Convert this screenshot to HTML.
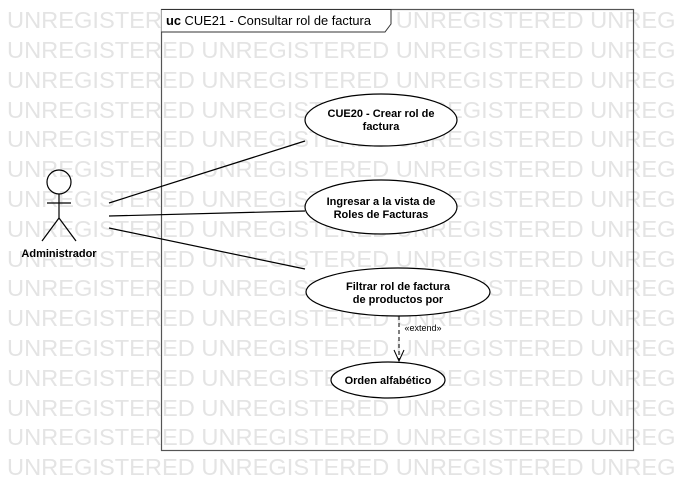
<!DOCTYPE html>
<html><head><style>
body{margin:0;background:#fff;}
svg{display:block;}
</style></head><body>
<svg width="674" height="490" xmlns="http://www.w3.org/2000/svg">
<g font-family="Liberation Sans, sans-serif" font-size="23" fill="#e4e4e4">
<text x="7" y="28" textLength="771" lengthAdjust="spacingAndGlyphs">UNREGISTERED UNREGISTERED UNREGISTERED UNREGISTERED</text>
<text x="7" y="58" textLength="771" lengthAdjust="spacingAndGlyphs">UNREGISTERED UNREGISTERED UNREGISTERED UNREGISTERED</text>
<text x="7" y="88" textLength="771" lengthAdjust="spacingAndGlyphs">UNREGISTERED UNREGISTERED UNREGISTERED UNREGISTERED</text>
<text x="7" y="118" textLength="771" lengthAdjust="spacingAndGlyphs">UNREGISTERED UNREGISTERED UNREGISTERED UNREGISTERED</text>
<text x="7" y="147" textLength="771" lengthAdjust="spacingAndGlyphs">UNREGISTERED UNREGISTERED UNREGISTERED UNREGISTERED</text>
<text x="7" y="177" textLength="771" lengthAdjust="spacingAndGlyphs">UNREGISTERED UNREGISTERED UNREGISTERED UNREGISTERED</text>
<text x="7" y="207" textLength="771" lengthAdjust="spacingAndGlyphs">UNREGISTERED UNREGISTERED UNREGISTERED UNREGISTERED</text>
<text x="7" y="237" textLength="771" lengthAdjust="spacingAndGlyphs">UNREGISTERED UNREGISTERED UNREGISTERED UNREGISTERED</text>
<text x="7" y="267" textLength="771" lengthAdjust="spacingAndGlyphs">UNREGISTERED UNREGISTERED UNREGISTERED UNREGISTERED</text>
<text x="7" y="296" textLength="771" lengthAdjust="spacingAndGlyphs">UNREGISTERED UNREGISTERED UNREGISTERED UNREGISTERED</text>
<text x="7" y="326" textLength="771" lengthAdjust="spacingAndGlyphs">UNREGISTERED UNREGISTERED UNREGISTERED UNREGISTERED</text>
<text x="7" y="356" textLength="771" lengthAdjust="spacingAndGlyphs">UNREGISTERED UNREGISTERED UNREGISTERED UNREGISTERED</text>
<text x="7" y="386" textLength="771" lengthAdjust="spacingAndGlyphs">UNREGISTERED UNREGISTERED UNREGISTERED UNREGISTERED</text>
<text x="7" y="416" textLength="771" lengthAdjust="spacingAndGlyphs">UNREGISTERED UNREGISTERED UNREGISTERED UNREGISTERED</text>
<text x="7" y="445" textLength="771" lengthAdjust="spacingAndGlyphs">UNREGISTERED UNREGISTERED UNREGISTERED UNREGISTERED</text>
<text x="7" y="475" textLength="771" lengthAdjust="spacingAndGlyphs">UNREGISTERED UNREGISTERED UNREGISTERED UNREGISTERED</text>
</g>
<rect x="161.5" y="9.5" width="472" height="441" fill="none" stroke="#555" stroke-width="1.2"/>
<path d="M161.5 9.5 H391 V24 L385 32 H161.5" fill="#fff" stroke="#333"/>
<text x="166" y="25" font-family="Liberation Sans, sans-serif" font-size="13" textLength="205" lengthAdjust="spacingAndGlyphs"><tspan font-weight="bold">uc</tspan> CUE21 - Consultar rol de factura</text>
<g stroke="#000" stroke-width="1.2" fill="none">
<line x1="109" y1="203" x2="305" y2="141"/>
<line x1="109" y1="216" x2="305" y2="211"/>
<line x1="109" y1="228" x2="305" y2="269"/>
<circle cx="59" cy="182" r="12"/>
<line x1="47" y1="203" x2="71" y2="203"/>
<line x1="59" y1="194" x2="59" y2="218"/>
<line x1="59" y1="218" x2="42" y2="241"/>
<line x1="59" y1="218" x2="76" y2="241"/>
</g>
<g stroke="#000" stroke-width="1.2" fill="#fff">
<ellipse cx="381" cy="120" rx="76" ry="26"/>
<ellipse cx="381" cy="207" rx="76" ry="27"/>
<ellipse cx="398" cy="292" rx="92" ry="24"/>
<ellipse cx="388" cy="380" rx="57" ry="18"/>
</g>
<line x1="399" y1="316" x2="399" y2="360" stroke="#000" stroke-dasharray="4,3"/>
<polyline points="394,350 399,361 404,350" fill="none" stroke="#000"/>
<g font-family="Liberation Sans, sans-serif" font-size="11" font-weight="bold" text-anchor="middle" fill="#000">
<text x="381" y="117">CUE20 - Crear rol de</text>
<text x="381" y="130">factura</text>
<text x="381" y="205">Ingresar a la vista de</text>
<text x="381" y="218">Roles de Facturas</text>
<text x="398" y="290">Filtrar rol de factura</text>
<text x="398" y="303">de productos por</text>
<text x="388" y="384">Orden alfabético</text>
<text x="59" y="257">Administrador</text>
<text x="423" y="331" font-size="9" font-weight="normal">«extend»</text>
</g>
</svg>
</body></html>
